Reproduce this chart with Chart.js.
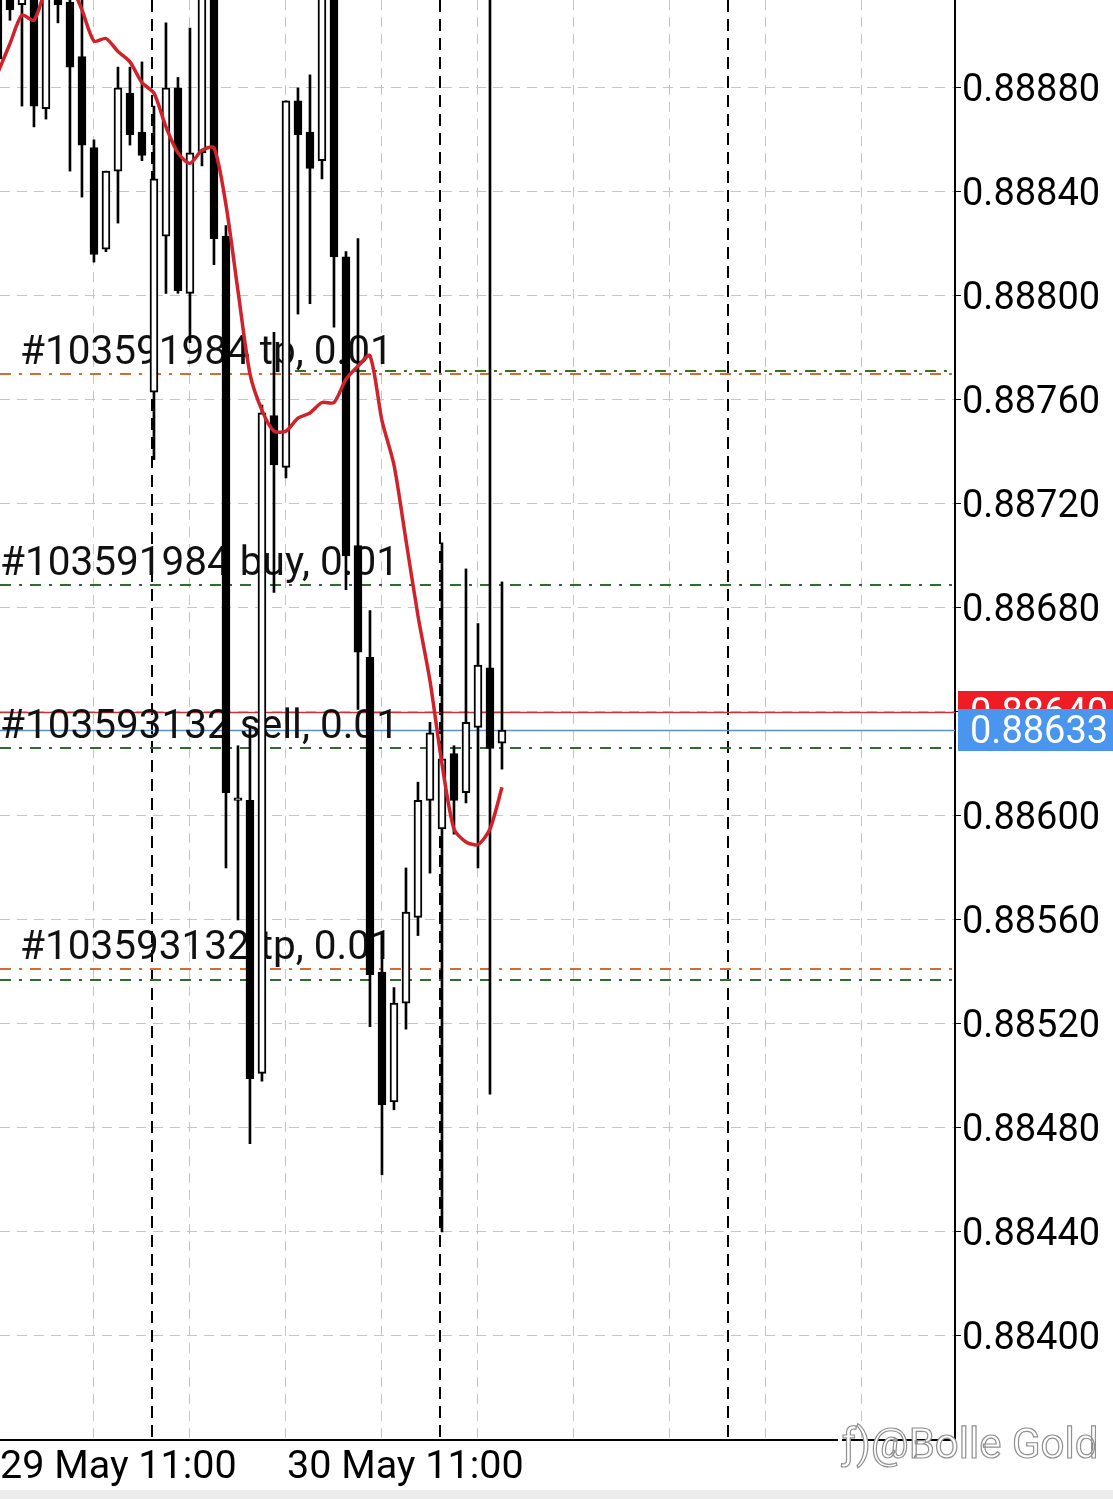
<!DOCTYPE html>
<html lang="en">
<head>
    <meta charset="UTF-8">
    <title>H1 candles</title>
    <style>
        html, body { margin: 0; padding: 0; background: #fff; }
        #chart { display: block; }
    </style>
</head>
<body>
    <canvas id="chart" width="1113" height="1499"></canvas>

    <script src="https://cdn.jsdelivr.net/npm/chart.js"></script>
    <script>
        // hourly bars, 29 May 11:00 -> 31 May 05:00
        const times = [
            '29 May 11:00', '29 May 12:00', '29 May 13:00', '29 May 14:00', '29 May 15:00', '29 May 16:00',
            '29 May 17:00', '29 May 18:00', '29 May 19:00', '29 May 20:00', '29 May 21:00', '29 May 22:00',
            '29 May 23:00',
            '30 May 00:00', '30 May 01:00', '30 May 02:00', '30 May 03:00', '30 May 04:00', '30 May 05:00',
            '30 May 06:00', '30 May 07:00', '30 May 08:00', '30 May 09:00', '30 May 10:00', '30 May 11:00',
            '30 May 12:00', '30 May 13:00', '30 May 14:00', '30 May 15:00', '30 May 16:00', '30 May 17:00',
            '30 May 18:00', '30 May 19:00', '30 May 20:00', '30 May 21:00', '30 May 22:00', '30 May 23:00',
            '31 May 00:00', '31 May 01:00', '31 May 02:00', '31 May 03:00', '31 May 04:00', '31 May 05:00'
        ];

        const opens = [
            0.88920, 0.88918, 0.88912, 0.88918, 0.88872, 0.88918, 0.88913, 0.88892, 0.88857, 0.88818,
            0.88848, 0.88878, 0.88863, 0.88763, 0.88823, 0.88880, 0.88801, 0.88855, 0.88918, 0.88823,
            0.88606, 0.88606, 0.88501, 0.88754, 0.88734, 0.88875, 0.88863, 0.88852, 0.88918, 0.88815,
            0.88704, 0.88661, 0.88540, 0.88490, 0.88528, 0.88561, 0.88606, 0.88595, 0.88624, 0.88609,
            0.88634, 0.88657, 0.88628
        ];
        const highs = [
            0.88925, 0.88920, 0.88922, 0.88922, 0.88925, 0.88922, 0.88918, 0.88914, 0.88860, 0.88848,
            0.88888, 0.88888, 0.88890, 0.88873, 0.88905, 0.88884, 0.88903, 0.88922, 0.88922, 0.88827,
            0.88627, 0.88634, 0.88758, 0.88786, 0.88875, 0.88880, 0.88885, 0.88922, 0.88922, 0.88817,
            0.88822, 0.88679, 0.88555, 0.88534, 0.88580, 0.88613, 0.88636, 0.88705, 0.88627, 0.88695,
            0.88674, 0.88930, 0.88690
        ];
        const lows = [
            0.88842, 0.88906, 0.88873, 0.88865, 0.88868, 0.88905, 0.88848, 0.88838, 0.88813, 0.88817,
            0.88828, 0.88858, 0.88852, 0.88737, 0.88801, 0.88801, 0.88782, 0.88850, 0.88812, 0.88580,
            0.88560, 0.88474, 0.88498, 0.88686, 0.88730, 0.88793, 0.88797, 0.88845, 0.88788, 0.88687,
            0.88641, 0.88519, 0.88462, 0.88487, 0.88518, 0.88554, 0.88578, 0.88440, 0.88593, 0.88605,
            0.88580, 0.88493, 0.88618
        ];
        const closes = [
            0.88891, 0.88910, 0.88918, 0.88873, 0.88918, 0.88912, 0.88888, 0.88858, 0.88816, 0.88848,
            0.88880, 0.88862, 0.88854, 0.88845, 0.88880, 0.88802, 0.88855, 0.88918, 0.88822, 0.88609,
            0.88607, 0.88499, 0.88755, 0.88735, 0.88875, 0.88862, 0.88849, 0.88918, 0.88815, 0.88700,
            0.88663, 0.88539, 0.88489, 0.88528, 0.88563, 0.88606, 0.88632, 0.88622, 0.88606, 0.88636,
            0.88658, 0.88626, 0.88633
        ];
        // moving average (red)
        const maValues = [
            0.88886, 0.88897, 0.88908, 0.88906, 0.88918, 0.88923, 0.88920, 0.88910, 0.88898, 0.88899,
            0.88894, 0.88890, 0.88882, 0.88878, 0.88865, 0.88855, 0.88851, 0.88856, 0.88857, 0.88835,
            0.88802, 0.88770, 0.88756, 0.88748, 0.88748, 0.88753, 0.88755, 0.88759, 0.88759, 0.88768,
            0.88773, 0.88777, 0.88752, 0.88735, 0.88706, 0.88677, 0.88652, 0.88620, 0.88595, 0.88590,
            0.88589, 0.88595, 0.88611
        ];

        const yTicks = [0.88400, 0.88440, 0.88480, 0.88520, 0.88560, 0.88600, 0.88640, 0.88680, 0.88720, 0.88760, 0.88800, 0.88840, 0.88880];
        const xGridIdx = [8, 16, 24, 32, 40, 48, 56, 64, 72];
        const xAxisLabels = ['29 May 11:00', '30 May 11:00'];
        const daySeparatorIdx = [13, 37, 61];

        const bid = 0.88633;
        const ask = 0.88640;

        const orderLines = [
            { label: '#103591984 tp, 0.01', price: 0.88770, color: '#cf6d35' },
            { label: '', price: 0.88771, color: '#3f6f1c', from: '30 May 12:00' },
            { label: '#103591984 buy, 0.01', price: 0.88689, color: '#2f6b2f' },
            { label: '#103593132 sell, 0.01', price: 0.88626, color: '#2f6b2f' },
            { label: '#103593132 tp, 0.01', price: 0.88541, color: '#cf6d35' },
            { label: '', price: 0.88537, color: '#2f6b2f' }
        ];

        const FONT = 'Roboto, "Noto Sans", sans-serif';

        const bodies = opens.map((o, i) => ({ x: i, y: [o, closes[i]] }));
        const wicks = lows.map((l, i) => ({ x: i, y: [l, highs[i]] }));
        const bodyFill = opens.map((o, i) => closes[i] >= o ? '#ffffff' : '#000000');
        const ma = maValues.map((v, i) => ({ x: i, y: v }));

        // no extra padding around the plot
        function noPad(s) {
            s.paddingTop = 0; s.paddingBottom = 0;
            s.paddingLeft = 0; s.paddingRight = 0;
        }

        const overlay = {
            id: 'mtOverlay',
            beforeDatasetsDraw(chart) {
                const { ctx, chartArea: a } = chart;
                const xs = chart.scales.x, ys = chart.scales.y;
                ctx.save();
                ctx.beginPath();
                ctx.rect(a.left, a.top, a.right - a.left, a.bottom - a.top);
                ctx.clip();

                // period separators
                ctx.strokeStyle = '#000';
                ctx.lineWidth = 2;
                ctx.setLineDash([12, 7]);
                daySeparatorIdx.forEach(idx => {
                    const x = Math.round(xs.getPixelForValue(idx)) - 2;
                    ctx.beginPath();
                    ctx.moveTo(x, a.top);
                    ctx.lineTo(x, a.bottom);
                    ctx.stroke();
                });

                // order levels
                ctx.lineWidth = 2;
                ctx.setLineDash([11, 8, 3, 8]);
                orderLines.forEach(l => {
                    const y = Math.round(ys.getPixelForValue(l.price));
                    const x0 = l.from ? xs.getPixelForValue(times.indexOf(l.from)) - 3 : a.left;
                    ctx.strokeStyle = l.color;
                    ctx.beginPath();
                    ctx.moveTo(x0, y);
                    ctx.lineTo(a.right, y);
                    ctx.stroke();
                });

                // bid / ask
                ctx.setLineDash([]);
                ctx.lineWidth = 1.5;
                [[ask, '#c8323a'], [bid, '#5c8fc2']].forEach(([p, c]) => {
                    const y = Math.round(ys.getPixelForValue(p)) + 0.5;
                    ctx.strokeStyle = c;
                    ctx.beginPath();
                    ctx.moveTo(a.left, y);
                    ctx.lineTo(a.right, y);
                    ctx.stroke();
                });

                // order labels
                ctx.font = '40.5px ' + FONT;
                ctx.fillStyle = '#111';
                ctx.textAlign = 'left';
                ctx.textBaseline = 'alphabetic';
                orderLines.forEach(l => {
                    if (!l.label) return;
                    const y = ys.getPixelForValue(l.price) - 10;
                    const x = a.left + (l.label.includes(' tp') ? 20 : 0);
                    ctx.fillText(l.label, x, y);
                });
                ctx.restore();
            },
            afterDraw(chart) {
                const { ctx, chartArea: a, width, height } = chart;
                const xs = chart.scales.x, ys = chart.scales.y;
                ctx.save();

                // price tags on the axis
                ctx.font = '38px ' + FONT;
                ctx.textBaseline = 'middle';
                ctx.textAlign = 'left';
                [[ask, '#ee1c25'], [bid, '#4a96ee']].forEach(([p, c]) => {
                    const y = Math.round(ys.getPixelForValue(p));
                    ctx.fillStyle = c;
                    ctx.fillRect(a.right + 3, y - 21, width - a.right - 3, 42);
                    ctx.fillStyle = '#fff';
                    ctx.fillText(p.toFixed(5), a.right + 15, y + 3);
                });

                // time labels
                ctx.font = '39.5px ' + FONT;
                ctx.fillStyle = '#000';
                ctx.textBaseline = 'alphabetic';
                xAxisLabels.forEach(t => {
                    const x = Math.max(0, xs.getPixelForValue(times.indexOf(t)) + 1);
                    ctx.fillText(t, x, a.bottom + 38);
                });

                // watermark
                ctx.font = '42px ' + FONT;
                ctx.fillStyle = '#fff';
                ctx.strokeStyle = '#8f8f8f';
                ctx.lineWidth = 1.2;
                ctx.fillRect(838, a.bottom - 2, 4, 5);
                ctx.fillText('ƒ)@Bolle Gold', 842, a.bottom + 18);
                ctx.strokeText('ƒ)@Bolle Gold', 842, a.bottom + 18);

                // bottom strip
                ctx.fillStyle = '#ececec';
                ctx.fillRect(0, height - 9, width, 9);
                ctx.restore();
            }
        };

        new Chart(document.getElementById('chart'), {
            type: 'bar',
            data: {
                datasets: [
                    {
                        type: 'line',
                        data: ma,
                        borderColor: '#d0222a',
                        borderWidth: 3.5,
                        pointRadius: 0,
                        tension: 0.25,
                        order: 0
                    },
                    {
                        data: bodies,
                        backgroundColor: bodyFill,
                        borderColor: '#000',
                        borderWidth: 2,
                        borderSkipped: false,
                        barThickness: 8,
                        grouped: false,
                        order: 1
                    },
                    {
                        data: wicks,
                        backgroundColor: '#000',
                        borderWidth: 0,
                        barThickness: 2,
                        grouped: false,
                        order: 2
                    }
                ]
            },
            options: {
                responsive: false,
                animation: false,
                devicePixelRatio: 1,
                layout: { padding: 0 },
                plugins: { legend: { display: false }, tooltip: { enabled: false } },
                scales: {
                    x: {
                        type: 'linear',
                        position: 'bottom',
                        offset: false,
                        min: 0.17,
                        max: 79.75,
                        afterBuildTicks: s => { s.ticks = xGridIdx.map(v => ({ value: v })); },
                        afterFit: s => { s.height = 59; noPad(s); },
                        ticks: { display: false },
                        grid: { color: '#c6c6c6', lineWidth: 1, drawTicks: false, offset: false },
                        border: { display: true, color: '#000', width: 2, dash: [10, 7] }
                    },
                    y: {
                        type: 'linear',
                        position: 'right',
                        min: 0.8836,
                        max: 0.889138,
                        afterBuildTicks: s => { s.ticks = yTicks.map(v => ({ value: v })); },
                        afterFit: s => { s.width = 158; noPad(s); },
                        ticks: {
                            callback: v => v.toFixed(5),
                            color: '#000',
                            font: { family: FONT, size: 38 },
                            padding: 1,
                            labelOffset: 4
                        },
                        grid: {
                            color: '#c6c6c6',
                            lineWidth: 1,
                            drawTicks: true,
                            tickLength: 6,
                            tickColor: '#000',
                            tickBorderDash: []
                        },
                        border: { display: true, color: '#000', width: 2, dash: [10, 7] }
                    }
                }
            },
            plugins: [overlay]
        });
    </script>
</body>
</html>
